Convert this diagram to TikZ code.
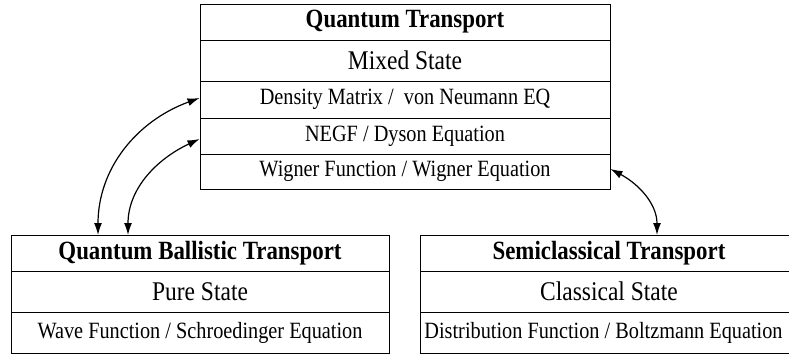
\documentclass[tikz,border=0pt]{standalone}
\usepackage{fontspec}
\setmainfont[FakeStretch=0.87]{Liberation Serif}
\usetikzlibrary{arrows.meta}
\begin{document}
\begin{tikzpicture}[x=1pt,y=1pt,
  cell/.style={draw, line width=0.9pt, inner sep=0pt, anchor=center},
  head/.style={cell, font=\fontsize{26.3}{28}\selectfont\bfseries},
  state/.style={cell, font=\fontsize{27}{29}\selectfont},
  eqn/.style={cell, font=\fontsize{23.3}{25}\selectfont},
  lbl/.style={font=\fontsize{23.3}{25}\selectfont, inner sep=0pt},
  link/.style={line width=1.2pt, {Latex[length=12pt,width=8pt]}-{Latex[length=12pt,width=8pt]}}]
\useasboundingbox (0,0) rectangle (789,354);
% top box
\node[head,  minimum width=410pt, minimum height=36pt] (qt)  at (405,332)   {Quantum Transport};
\node[state, minimum width=410pt, minimum height=41pt] (ms)  at (405,293.5) {Mixed State};
\node[eqn,   minimum width=410pt, minimum height=37pt] (dm)  at (405,254.5) {Density Matrix /\ \ von Neumann EQ};
\node[eqn,   minimum width=410pt, minimum height=36pt] (ng)  at (405,218)   {NEGF / Dyson Equation};
\node[eqn,   minimum width=410pt, minimum height=35pt] (wf)  at (405,182.5) {Wigner Function / Wigner Equation};
% bottom left box
\node[head,  minimum width=378pt, minimum height=36pt] (qb)  at (200,101)   {Quantum Ballistic Transport};
\node[state, minimum width=378pt, minimum height=41pt] (ps)  at (200,62.5)  {Pure State};
\node[eqn,   minimum width=378pt, minimum height=41pt] (sw)  at (200,21.5)  {Wave Function / Schroedinger Equation};
% bottom right box
\node[head,  minimum width=378pt, minimum height=36pt] (sc)  at (609,101)   {Semiclassical Transport};
\node[state, minimum width=378pt, minimum height=41pt] (cs)  at (609,62.5)  {Classical State};
\node[cell,  minimum width=378pt, minimum height=41pt] (bz)  at (609,21.5)  {};
\node[lbl] (bzt) at (603.5,21.5) {Distribution Function / Boltzmann Equation};
% connectors
\coordinate (a1) at (dm.west |- 0,256);
\coordinate (a2) at (ng.west |- 0,215);
\coordinate (a3) at (wf.east |- 0,185);
\coordinate (b1) at (98,119);
\coordinate (b2) at (128,119);
\coordinate (b3) at (657,119);
\draw[link] (b1) to[out=90,in=200] (a1);
\draw[link] (b2) to[out=90,in=205] (a2);
\draw[link] (a3) to[out=-28,in=90] (b3);
\end{tikzpicture}
\end{document}
